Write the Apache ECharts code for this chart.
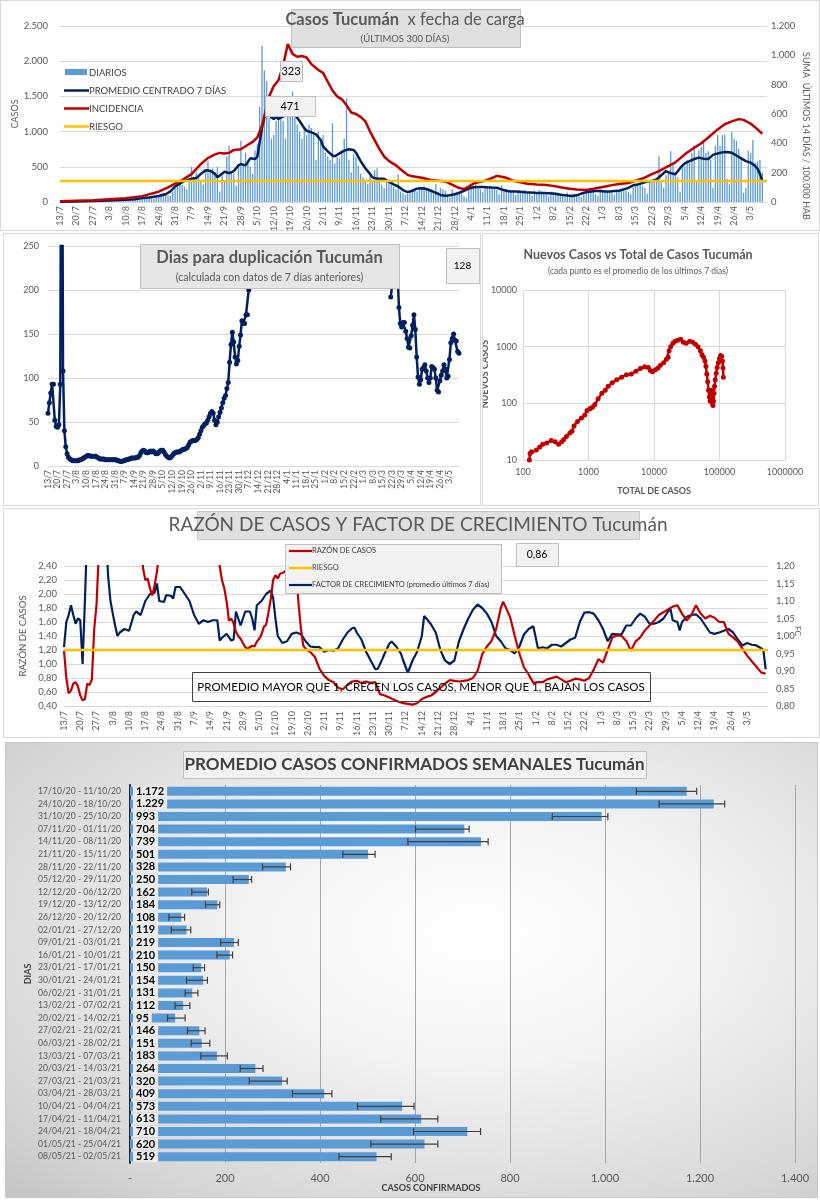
<!DOCTYPE html>
<html><head><meta charset="utf-8">
<script src="https://cdn.jsdelivr.net/npm/echarts@6/dist/echarts.min.js"></script>
<style>
body{margin:0;width:820px;height:1200px;background:#fff;position:relative;overflow:hidden}
.p{position:absolute;box-sizing:border-box;border:1px solid #d9d9d9;background:#fff}
#c5{background:radial-gradient(ellipse at 58% 42%, #ffffff 0%, #f3f3f3 35%, #d6d6d6 80%, #c4c4c4 100%);border-color:#c8c8c8}
</style></head><body>
<div id="c1" class="p" style="left:0;top:0;width:820px;height:231px"></div>
<div id="c2" class="p" style="left:3px;top:233px;width:478px;height:273px"></div>
<div id="c3" class="p" style="left:482px;top:233px;width:337px;height:273px"></div>
<div id="c4" class="p" style="left:3px;top:508px;width:817px;height:230px"></div>
<div id="c5" class="p" style="left:5px;top:742px;width:813px;height:456px"></div>
<script>
// ---------------- DATA ----------------
const weekTicks = ["13/7","20/7","27/7","3/8","10/8","17/8","24/8","31/8","7/9","14/9","21/9","28/9","5/10","12/10","19/10","26/10","2/11","9/11","16/11","23/11","30/11","7/12","14/12","21/12","28/12","4/1","11/1","18/1","25/1","1/2","8/2","15/2","22/2","1/3","8/3","15/3","22/3","29/3","5/4","12/4","19/4","26/4","3/5"];

// Panel 1: daily cases (day 0 = 13/7)
const dailyCases = [
3,5,8,4,6,2,4, 8,12,15,10,9,6,11, 14,18,20,16,12,10,15, 20,28,30,24,22,18,26,
30,40,45,35,30,25,38, 50,65,90,60,55,45,70, 90,120,130,110,95,85,150, 200,260,280,240,220,180,300,
500,350,420,380,300,250,450, 580,450,480,420,500,150,380, 300,650,800,420,400,230,500, 870,520,700,600,500,400,730,
820,1350,2220,1870,1720,1200,900, 950,1150,1300,1200,1150,900,1250, 1400,1570,1200,1100,1000,900,1050,
950,1100,1050,950,600,1000,850, 950,700,650,600,1120,550,640, 620,700,900,1470,600,420,680,
640,520,400,350,300,260,380, 300,450,480,300,250,200,320, 280,250,220,180,390,150,130,
100,120,160,180,200,150,220, 210,230,200,180,150,120,260, 150,200,180,160,90,60,180,
130,150,160,120,80,60,180, 230,200,250,200,180,140,220, 210,230,200,190,170,110,240,
170,180,160,150,130,100,160, 150,160,170,140,120,90,160, 140,170,150,130,120,80,150,
120,140,130,110,90,70,130, 100,110,120,90,80,70,140, 150,160,170,140,110,90,180,
160,170,150,140,130,100,180, 170,190,180,160,140,110,210, 230,260,250,230,200,120,290,
300,320,340,650,280,200,380, 420,720,550,420,350,150,480, 500,600,560,700,800,300,730,
780,850,700,720,600,200,800, 950,800,950,960,330,250,990, 900,870,760,640,130,200,730,
700,880,560,580,600,420];

const avg7 = [[0,3],[7,8],[14,14],[21,22],[28,32],[32,40],[35,55],[38,65],[42,85],[45,110],[47,150],[49,220],[51,260],[53,300],[56,330],[58,340],[60,400],[62,450],[64,445],[66,400],[67,350],[69,400],[70,430],[72,410],[74,440],[76,520],[77,540],[79,520],[81,620],[83,610],[84,640],[85,850],[86,1050],[87,1200],[88,1310],[89,1290],[90,1200],[91,1180],[92,1200],[93,1180],[94,1200],[96,1230],[98,1250],[100,1240],[102,1150],[104,1050],[105,1010],[107,990],[109,960],[111,880],[112,790],[114,720],[116,660],[117,650],[119,690],[121,730],[123,750],[125,740],[126,700],[128,580],[130,480],[132,400],[133,350],[135,330],[137,330],[138,330],[140,290],[142,250],[144,220],[146,170],[148,140],[150,160],[152,190],[154,195],[156,185],[158,160],[160,130],[162,100],[164,90],[166,95],[168,110],[170,130],[172,160],[174,190],[176,210],[178,212],[180,213],[182,208],[184,205],[186,203],[188,180],[190,160],[192,150],[194,150],[196,146],[198,140],[200,135],[202,130],[204,128],[206,128],[208,124],[210,120],[212,110],[214,100],[216,92],[218,85],[220,95],[222,120],[224,140],[226,150],[228,155],[230,156],[232,150],[234,150],[236,155],[238,160],[240,180],[242,200],[244,237],[246,250],[248,270],[250,290],[252,300],[254,320],[256,380],[258,440],[260,410],[262,395],[264,480],[266,550],[268,580],[270,610],[272,630],[274,615],[276,610],[278,670],[280,690],[282,705],[284,710],[286,700],[288,660],[290,620],[292,580],[294,560],[296,510],[297,470],[298,400],[299,300]];

const incidence = [[0,5],[14,12],[28,25],[35,40],[42,70],[46,100],[49,125],[52,150],[56,190],[60,260],[63,300],[66,325],[68,335],[70,330],[72,335],[74,355],[77,360],[80,390],[82,410],[84,440],[86,520],[88,650],[89,720],[91,790],[93,830],[95,930],[97,1077],[99,1010],[101,990],[103,995],[105,985],[107,940],[110,900],[112,880],[114,820],[116,760],[118,720],[120,700],[122,660],[124,610],[126,600],[128,580],[130,550],[132,480],[134,420],[136,360],[138,310],[140,280],[143,250],[146,210],[148,185],[150,175],[154,165],[158,150],[161,145],[164,140],[166,125],[168,110],[170,95],[172,88],[174,105],[176,125],[178,135],[181,145],[184,165],[186,178],[188,172],[190,165],[193,145],[196,135],[199,125],[203,120],[206,118],[210,110],[213,100],[217,90],[220,85],[224,82],[227,90],[231,102],[235,115],[238,122],[242,130],[245,145],[248,160],[252,190],[255,210],[259,245],[262,270],[266,325],[270,370],[273,400],[276,440],[280,495],[283,530],[286,550],[289,565],[291,560],[294,535],[297,495],[299,465]];

const riesgoCasos = 300;

// Panel 2: días para duplicación
const dblEarly = [60,72,83,93,93,52,45, 44,47,93,600,108,40,22, 14,10,8,7,6,6,6, 6,6,7,7,8,9,10,
11,12,12,11,11,11,11, 11,10,9,8,8,8,8, 7,7,7,7,7,7,7, 7,7,6,6,5,5,6, 6,7,7,8,8,9,9,
9,9,10,10,12,15,17, 18,17,15,15,16,17,16, 17,16,14,14,15,17,18, 18,16,13,11,10,9,10,
12,14,15,16,16,16,17, 18,19,19,20,21,24,27, 28,29,29,29,30,32,36, 40,44,46,48,49,52,56,
60,62,60,52,47,50,56, 61,66,72,77,80,88,95, 118,138,152,141,124,116,120, 136,149,165,162,162,172,172, 200];
const dblIsolated = [181,205];
const dblLateStart = 251;
const dblLate = [192,205,215,222,225,221,180,162,158,163,163,153,145,135,134,148,160,172,155,124,101,93,98,110,112,115,108,100,95,100,113,112,110,100,86,84,97,103,108,115,110,100,102,121,140,145,150,143,142,130,128];
const dblLastLabel = "128";

// Panel 3: total vs nuevos (log-log)
const totalVsNew = [[125,10],[128,13],[135,14],[160,15],[180,17],[200,19],[230,20],[270,22],[310,21],[350,19],[390,21],[420,23],[460,26],[520,30],[560,32],[600,40],[680,48],[780,55],[880,62],[950,75],[1050,80],[1150,85],[1250,95],[1400,120],[1600,150],[1800,170],[2000,200],[2300,230],[2700,260],[3200,290],[3800,320],[4500,330],[5300,370],[6200,410],[7200,440],[8200,430],[8800,380],[9500,360],[10500,390],[11500,420],[12500,470],[14000,520],[15500,600],[16500,650],[17000,850],[18000,1000],[19500,1150],[21000,1250],[23000,1300],[25500,1350],[28000,1200],[31000,1150],[35000,1250],[39000,1200],[43000,1100],[47000,1000],[51000,850],[54000,720],[57000,650],[60000,560],[62000,450],[64000,330],[66000,240],[68000,170],[70000,130],[72000,110],[73500,140],[75000,170],[76500,130],[78000,100],[79500,92],[81000,110],[82500,150],[84000,200],[86000,260],[89000,340],[92000,430],[96000,520],[100000,620],[104000,700],[108000,680],[111000,560],[113000,420],[114500,290]];

// Panel 4: razón de casos (left) y factor de crecimiento (right)
const razon = [[0,1.19],[1,0.8],[2,0.58],[3,0.62],[4,0.72],[5,0.74],[6,0.68],[7,0.55],[8,0.48],[9,0.5],[10,0.72],[11,0.7],[12,0.78],[13,1.5],[14,1.85],[15,2.6],[16,3.0],[33,2.9],[34,2.37],[35,2.2],[36,2.22],[37,2.08],[38,1.98],[39,2.12],[40,2.32],[41,2.6],[42,3.0],[66,3.0],[67,2.4],[68,2.2],[69,2.08],[70,1.89],[71,1.62],[72,1.65],[73,1.58],[74,1.46],[75,1.4],[76,1.36],[77,1.3],[78,1.24],[79,1.22],[80,1.24],[81,1.26],[82,1.25],[83,1.32],[84,1.36],[85,1.42],[86,1.53],[87,1.56],[88,1.74],[89,1.93],[90,2.2],[91,2.27],[92,2.22],[93,2.29],[94,2.3],[95,2.32],[96,2.35],[97,2.6],[99,2.7],[100,2.3],[101,1.84],[102,1.5],[103,1.26],[104,1.22],[106,1.17],[108,1.1],[110,0.93],[112,0.83],[114,0.77],[116,0.74],[118,0.66],[120,0.64],[122,0.7],[124,0.75],[126,0.76],[128,0.73],[130,0.75],[132,0.73],[134,0.74],[136,0.57],[138,0.55],[140,0.52],[142,0.49],[144,0.46],[146,0.44],[148,0.43],[150,0.42],[152,0.44],[154,0.5],[156,0.53],[158,0.55],[160,0.6],[162,0.66],[164,0.72],[166,0.77],[168,0.76],[170,0.75],[172,0.76],[174,0.77],[176,0.8],[178,0.9],[180,1.14],[182,1.25],[184,1.33],[186,1.5],[188,1.8],[189,1.89],[190,1.82],[192,1.67],[194,1.4],[196,1.15],[198,0.95],[200,0.85],[202,0.73],[204,0.74],[206,0.74],[208,0.78],[210,0.8],[212,0.82],[214,0.78],[216,0.74],[218,0.76],[220,0.79],[222,0.78],[224,0.76],[226,0.8],[228,0.92],[230,1.07],[232,1.02],[234,1.2],[236,1.38],[238,1.41],[240,1.4],[242,1.33],[244,1.19],[246,1.32],[248,1.38],[250,1.48],[252,1.55],[254,1.62],[256,1.7],[258,1.74],[260,1.78],[262,1.82],[264,1.84],[266,1.72],[268,1.62],[270,1.7],[272,1.84],[274,1.72],[276,1.65],[278,1.69],[280,1.66],[282,1.6],[284,1.6],[286,1.43],[288,1.38],[290,1.32],[292,1.22],[294,1.12],[296,1.04],[298,0.96],[300,0.88],[302,0.86]];
const factor = [[0,0.968],[1,1.04],[2,1.06],[3,1.088],[4,1.06],[5,1.035],[6,1.05],[7,1.045],[8,0.92],[9,1.1],[10,1.3],[18,1.3],[19,1.17],[20,1.1],[21,1.064],[22,1.03],[23,1.0],[24,1.01],[26,1.02],[28,1.015],[30,1.06],[31,1.07],[33,1.06],[35,1.1],[37,1.12],[39,1.124],[40,1.15],[41,1.1],[43,1.097],[44,1.117],[46,1.115],[47,1.107],[48,1.14],[50,1.14],[52,1.12],[54,1.1],[55,1.08],[56,1.06],[58,1.035],[60,1.045],[62,1.04],[64,1.045],[66,1.045],[67,0.987],[68,0.995],[70,1.006],[72,0.987],[73,0.99],[74,1.07],[76,1.03],[78,1.07],[80,1.07],[81,1.05],[82,1.016],[83,1.088],[85,1.1],[87,1.12],[89,1.13],[90,1.11],[91,1.05],[92,1.0],[94,0.98],[96,0.985],[98,1.006],[100,1.01],[102,1.005],[104,0.985],[106,0.97],[108,0.968],[110,0.968],[112,0.955],[114,0.96],[116,0.958],[118,0.965],[120,0.99],[122,1.01],[124,1.022],[125,1.024],[126,1.01],[128,0.99],[130,0.955],[132,0.93],[134,0.905],[135,0.906],[137,0.934],[138,0.95],[140,0.978],[141,0.984],[143,0.97],[145,0.95],[146,0.93],[148,0.895],[150,0.93],[152,0.955],[154,1.0],[155,1.057],[156,1.05],[158,1.033],[160,1.01],[162,0.96],[164,0.93],[166,0.92],[168,0.93],[170,0.985],[172,1.02],[174,1.05],[176,1.075],[178,1.09],[180,1.08],[182,1.064],[184,1.04],[186,1.0],[188,0.985],[190,0.965],[192,0.96],[194,0.95],[196,0.97],[198,1.005],[200,1.02],[202,1.028],[204,0.965],[206,0.968],[208,0.965],[210,0.975],[212,0.975],[214,0.97],[216,0.98],[218,0.99],[220,0.995],[222,1.04],[224,1.067],[226,1.068],[228,1.064],[230,1.045],[232,1.02],[234,0.985],[236,1.006],[238,1.005],[240,1.005],[242,1.03],[244,1.03],[246,1.05],[248,1.064],[250,1.055],[252,1.035],[254,1.035],[256,1.04],[258,1.05],[260,1.07],[261,1.078],[262,1.045],[264,1.04],[265,1.016],[266,1.04],[268,1.055],[270,1.06],[272,1.062],[274,1.05],[276,1.03],[278,1.01],[280,1.006],[282,1.01],[284,1.015],[286,1.02],[288,1.01],[290,0.99],[292,0.973],[294,0.98],[296,0.975],[298,0.973],[300,0.965],[301,0.96],[302,0.905]];
const riesgoRazon = 1.2;
const razonLastLabel = "0,86";

// Panel 5: promedio semanal
const weekRanges = ["17/10/20 - 11/10/20","24/10/20 - 18/10/20","31/10/20 - 25/10/20","07/11/20 - 01/11/20","14/11/20 - 08/11/20","21/11/20 - 15/11/20","28/11/20 - 22/11/20","05/12/20 - 29/11/20","12/12/20 - 06/12/20","19/12/20 - 13/12/20","26/12/20 - 20/12/20","02/01/21 - 27/12/20","09/01/21 - 03/01/21","16/01/21 - 10/01/21","23/01/21 - 17/01/21","30/01/21 - 24/01/21","06/02/21 - 31/01/21","13/02/21 - 07/02/21","20/02/21 - 14/02/21","27/02/21 - 21/02/21","06/03/21 - 28/02/21","13/03/21 - 07/03/21","20/03/21 - 14/03/21","27/03/21 - 21/03/21","03/04/21 - 28/03/21","10/04/21 - 04/04/21","17/04/21 - 11/04/21","24/04/21 - 18/04/21","01/05/21 - 25/04/21","08/05/21 - 02/05/21"];
const weekAvg = [1172,1229,993,704,739,501,328,250,162,184,108,119,219,210,150,154,131,112,95,146,151,183,264,320,409,573,613,710,620,519];
const weekErrLow = [1066,1114,889,601,585,448,279,217,130,159,82,87,191,183,133,119,116,95,79,121,129,149,232,251,342,479,528,597,507,440];
const weekErrHigh = [1193,1252,1006,714,754,516,338,256,165,189,115,128,228,216,157,163,143,126,116,158,168,205,280,331,425,598,648,738,648,550];

// ---------------- HELPERS ----------------
const FONT = 'Lato, "Noto Sans", sans-serif';
const GRAY = '#595959';
const NAVY = '#002060', RED = '#c00000', ORANGE = '#ffc000', BLUE = '#5b9bd5';
function thousands(v){ return String(Math.round(v)).replace(/\B(?=(\d{3})+(?!\d))/g,'.'); }
function comma2(v){ return v.toFixed(2).replace('.',','); }
function dayLabel(v){ if (Math.abs(v % 7) > 1e-6) return ''; return weekTicks[Math.round(v/7)] || ''; }
function box(left, top, w, h, fill, stroke){ return {type:'rect', left:left, top:top, shape:{width:w, height:h}, style:{fill:fill, stroke:stroke, lineWidth:1}, z:50}; }
function txt(x, y, text, opts){ return {type:'text', x:x, y:y, z:60, style:Object.assign({text:text, fill:GRAY, fontFamily:FONT, fontSize:10, align:'center', verticalAlign:'middle'}, opts||{})}; }
function ln(x1, y1, x2, y2, color, w){ return {type:'line', z:60, shape:{x1:x1, y1:y1, x2:x2, y2:y2}, style:{stroke:color, lineWidth:w}}; }
function rtxt(x, y, text, rot, opts){ return {type:'text', x:x, y:y, rotation:rot, z:60, style:Object.assign({text:text, fill:GRAY, fontFamily:FONT, fontSize:9, align:'center', verticalAlign:'middle'}, opts||{})}; }
function dayXAxis(max, fs, margin){ return {type:'value', min:0, max:max, interval:7, axisLine:{show:true, lineStyle:{color:'#d9d9d9'}}, axisTick:{show:false}, splitLine:{show:false}, axisLabel:{rotate:90, fontSize:fs, color:GRAY, fontFamily:FONT, formatter:dayLabel, margin:margin, showMaxLabel:false}}; }

// ---------------- PANEL 1 ----------------
const c1 = echarts.init(document.getElementById('c1'));
c1.setOption({
  animation:false, textStyle:{fontFamily:FONT},
  grid:{left:59, top:25, width:707, height:176, outerBoundsMode:'none'},
  xAxis: dayXAxis(301, 9, 4),
  yAxis:[
    {type:'value', min:0, max:2500, interval:500,
     axisLabel:{fontSize:9.5, color:GRAY, formatter:thousands, margin:12}, splitLine:{lineStyle:{color:'#d9d9d9'}}, axisLine:{show:false}, axisTick:{show:false}},
    {type:'value', min:0, max:1200, interval:200, position:'right', axisLabel:{fontSize:9.5, color:GRAY, formatter:thousands, margin:4},
     splitLine:{show:false}, axisLine:{show:false}, axisTick:{show:false}}
  ],
  series:[
    {name:'DIARIOS', type:'bar', barWidth:1.3, itemStyle:{color:BLUE}, data:dailyCases.map((v,i)=>[i,v])},
    {name:'PROMEDIO CENTRADO 7 DÍAS', type:'line', symbol:'none', lineStyle:{color:NAVY, width:2.5}, itemStyle:{color:NAVY}, data:avg7},
    {name:'INCIDENCIA', type:'line', yAxisIndex:1, symbol:'none', lineStyle:{color:RED, width:2.5}, itemStyle:{color:RED}, data:incidence},
    {name:'RIESGO', type:'line', symbol:'none', lineStyle:{color:ORANGE, width:2.5}, itemStyle:{color:ORANGE}, data:[[0,riesgoCasos],[301,riesgoCasos]]}
  ],
  graphic:[
    box(290, 8, 229, 38, '#e0e0e0', '#bfbfbf'),
    txt(404, 19, '{b|Casos Tucumán}{n|  x fecha de carga}', {rich:{b:{fontSize:16.5, fontWeight:'bold', fill:GRAY, fontFamily:FONT}, n:{fontSize:16.5, fill:GRAY, fontFamily:FONT}}}),
    txt(404, 38, '(ÚLTIMOS 300 DÍAS)', {fontSize:9.5}),
    box(279, 60, 22, 20, '#f2f2f2', '#bfbfbf'),
    txt(290, 70, '323', {fontSize:11, fill:'#000'}),
    box(264, 95, 50, 20, '#f2f2f2', '#bfbfbf'),
    txt(289, 105, '471', {fontSize:11, fill:'#000'}),
    rtxt(805, 135, 'SUMA  ÚLTIMOS 14 DÍAS / 100.000 HAB', -Math.PI/2),
    rtxt(14, 113, 'CASOS', Math.PI/2),
    {type:'rect', z:60, shape:{x:64, y:68, width:22, height:6}, style:{fill:BLUE}},
    txt(88, 71.5, 'DIARIOS', {align:'left', fontSize:9.5, fill:'#404040'}),
    ln(63, 89.5, 88, 89.5, NAVY, 2.5),
    txt(88, 89.5, 'PROMEDIO CENTRADO 7 DÍAS', {align:'left', fontSize:9.5, fill:'#404040'}),
    ln(63, 107.5, 88, 107.5, RED, 2.5),
    txt(88, 107.5, 'INCIDENCIA', {align:'left', fontSize:9.5, fill:'#404040'}),
    ln(63, 125.5, 88, 125.5, ORANGE, 2.5),
    txt(88, 125.5, 'RIESGO', {align:'left', fontSize:9.5, fill:'#404040'})
  ]
});

// ---------------- PANEL 2 ----------------
const c2 = echarts.init(document.getElementById('c2'));
const dblData = dblEarly.map((v,i)=>[i,v]).concat([[dblEarly.length,'-'], dblIsolated, [dblIsolated[0]+1,'-']], dblLate.map((v,i)=>[dblLateStart+i,v]));
c2.setOption({
  animation:false, textStyle:{fontFamily:FONT},
  grid:{left:44, top:12, width:411, height:220, outerBoundsMode:'none'},
  xAxis: dayXAxis(301, 8.5, 4),
  yAxis:{type:'value', min:0, max:250, interval:50, axisLabel:{fontSize:9, color:GRAY, margin:9}, splitLine:{lineStyle:{color:'#d9d9d9'}}, axisLine:{show:false}, axisTick:{show:false}},
  series:[{type:'line', data:dblData, connectNulls:false, symbol:'circle', symbolSize:5, showSymbol:true, lineStyle:{color:NAVY, width:2.5}, itemStyle:{color:NAVY}}],
  graphic:[
    box(136, 10, 259, 44, '#e7e6e6', '#bfbfbf'),
    txt(265.5, 24, 'Dias para duplicación Tucumán', {fontSize:16.5, fontWeight:'bold'}),
    txt(265.5, 44, '(calculada con datos de 7 días anteriores)', {fontSize:10.5}),
    box(442, 14, 33, 35, '#f2f2f2', '#bfbfbf'),
    txt(458.5, 32, dblLastLabel, {fontSize:10, fill:'#000'})
  ]
});

// ---------------- PANEL 3 ----------------
const c3 = echarts.init(document.getElementById('c3'));
c3.setOption({
  animation:false, textStyle:{fontFamily:FONT},
  grid:{left:40, top:56, width:262, height:170, outerBoundsMode:'none'},
  xAxis:{type:'log', logBase:10, min:100, max:1000000, axisLabel:{fontSize:9, color:GRAY, margin:8, formatter:v=>String(Math.round(v))}, splitLine:{show:true, lineStyle:{color:'#d9d9d9'}}, axisLine:{show:false}, axisTick:{show:false}},
  yAxis:{type:'log', logBase:10, min:10, max:10000, axisLabel:{fontSize:9, color:GRAY, margin:6, formatter:v=>String(Math.round(v))}, splitLine:{show:true, lineStyle:{color:'#d9d9d9'}}, axisLine:{show:false}, axisTick:{show:false}},
  series:[{type:'line', data:totalVsNew, symbol:'circle', symbolSize:5, lineStyle:{color:RED, width:2.5}, itemStyle:{color:RED}}],
  graphic:[
    txt(155, 21, 'Nuevos Casos vs Total de Casos Tucumán', {fontSize:12.5, fontWeight:'bold'}),
    txt(155, 37, '(cada punto es el promedio de los últimos 7 dias)', {fontSize:8.5}),
    txt(171, 257, 'TOTAL DE CASOS', {fontSize:9, fontWeight:'bold'}),
    rtxt(2, 140, 'NUEVOS CASOS', Math.PI/2, {fontWeight:'bold'})
  ]
});

// ---------------- PANEL 4 ----------------
const c4 = echarts.init(document.getElementById('c4'));
c4.setOption({
  animation:false, textStyle:{fontFamily:FONT},
  grid:{left:60, top:57, width:704, height:140, outerBoundsMode:'none'},
  xAxis: dayXAxis(303, 9, 5),
  yAxis:[
    {type:'value', min:0.4, max:2.4, interval:0.2,
     axisLabel:{fontSize:9.5, color:GRAY, formatter:comma2, margin:7}, splitLine:{lineStyle:{color:'#d9d9d9'}}, axisLine:{show:false}, axisTick:{show:false}},
    {type:'value', min:0.8, max:1.2, interval:0.05, position:'right', axisLabel:{fontSize:9.5, color:GRAY, formatter:comma2, margin:8},
     splitLine:{show:false}, axisLine:{show:false}, axisTick:{show:false}}
  ],
  series:[
    {name:'FACTOR DE CRECIMIENTO (promedio últimos 7 días)', type:'line', yAxisIndex:1, symbol:'none', lineStyle:{color:NAVY, width:2.2}, itemStyle:{color:NAVY}, data:factor},
    {name:'RAZÓN DE CASOS', type:'line', symbol:'none', lineStyle:{color:RED, width:2.2}, itemStyle:{color:RED}, data:razon},
    {name:'RIESGO', type:'line', symbol:'none', lineStyle:{color:ORANGE, width:2.5}, itemStyle:{color:ORANGE}, data:[[0,riesgoRazon],[303,riesgoRazon]]}
  ],
  graphic:[
    box(193, 2, 442, 28, '#e0e0e0', '#c8c8c8'),
    txt(414, 16, 'RAZÓN DE CASOS Y FACTOR DE CRECIMIENTO Tucumán', {fontSize:19}),
    box(512, 34, 42, 23, '#f2f2f2', '#bfbfbf'),
    txt(533, 45.5, razonLastLabel, {fontSize:10.5, fill:'#000'}),
    {type:'rect', left:188, top:163, shape:{width:458, height:29}, style:{fill:'rgba(0,0,0,0)', stroke:'#404040', lineWidth:1}, z:50},
    txt(417, 178, 'PROMEDIO MAYOR QUE 1, CRECEN LOS CASOS, MENOR QUE 1, BAJAN LOS CASOS', {fontSize:11.5, fill:'#000'}),
    rtxt(19, 127, 'RAZÓN DE CASOS', Math.PI/2, {fontSize:9.5}),
    rtxt(794, 122, 'FC', -Math.PI/2, {fontSize:8}),
    box(281, 35, 216, 49, '#f2f2f2', '#bfbfbf'),
    ln(285, 42, 308, 42, RED, 2.2),
    txt(308, 42, 'RAZÓN DE CASOS', {align:'left', fontSize:7.5, fill:'#404040'}),
    ln(285, 59, 308, 59, ORANGE, 2.5),
    txt(308, 59, 'RIESGO', {align:'left', fontSize:7.5, fill:'#404040'}),
    ln(285, 76, 308, 76, NAVY, 2.2),
    txt(308, 76, 'FACTOR DE CRECIMIENTO (promedio últimos 7 días)', {align:'left', fontSize:7.5, fill:'#404040'})
  ]
});

// ---------------- PANEL 5 ----------------
const c5 = echarts.init(document.getElementById('c5'));
c5.setOption({
  animation:false, textStyle:{fontFamily:FONT},
  grid:{left:124, top:42, width:665, height:378, outerBoundsMode:'none'},
  xAxis:{type:'value', min:0, max:1400, interval:200, axisLabel:{fontSize:11, color:GRAY, margin:10, formatter:v=> v===0 ? '-' : thousands(v)},
    splitLine:{lineStyle:{color:'#a6a6a6'}}, axisLine:{show:false}, axisTick:{show:false}},
  yAxis:{type:'category', inverse:true, data:weekRanges, axisLabel:{fontSize:8.6, color:GRAY, margin:9, interval:0}, axisLine:{lineStyle:{color:'#1f2a44', width:2}}, axisTick:{show:false}},
  series:[
    {type:'bar', data:weekAvg, barWidth:9, itemStyle:{color:BLUE},
     label:{show:true, position:'insideLeft', distance:3, formatter:p=>thousands(p.value), color:'#000', fontWeight:'bold', fontSize:11, fontFamily:FONT, backgroundColor:'#ececec', padding:[0,3], lineHeight:11}},
    {type:'custom', encode:{x:[1,2], y:0}, data:weekAvg.map((v,i)=>[i, weekErrLow[i], weekErrHigh[i]]), z:5,
     renderItem:function(params, api){
       const c = api.value(0), lo = api.value(1), hi = api.value(2);
       const a = api.coord([lo, c]), b = api.coord([hi, c]);
       const st = {stroke:'#404040', lineWidth:1.2};
       return {type:'group', children:[
         {type:'line', shape:{x1:a[0], y1:a[1], x2:b[0], y2:b[1]}, style:st},
         {type:'line', shape:{x1:a[0], y1:a[1]-3.5, x2:a[0], y2:a[1]+3.5}, style:st},
         {type:'line', shape:{x1:b[0], y1:b[1]-3.5, x2:b[0], y2:b[1]+3.5}, style:st}
       ]};
     }}
  ],
  graphic:[
    box(177, 8, 463, 27, '#f2f2f2', '#bfbfbf'),
    txt(408.5, 21.5, 'PROMEDIO CASOS CONFIRMADOS SEMANALES Tucumán', {fontSize:17, fontWeight:'bold', fill:'#404040'}),
    txt(425, 445, 'CASOS CONFIRMADOS', {fontSize:9, fontWeight:'bold', fill:'#404040'}),
    rtxt(22, 231, 'DIAS', Math.PI/2, {fontWeight:'bold', fill:'#404040'})
  ]
});
</script>
</body></html>
